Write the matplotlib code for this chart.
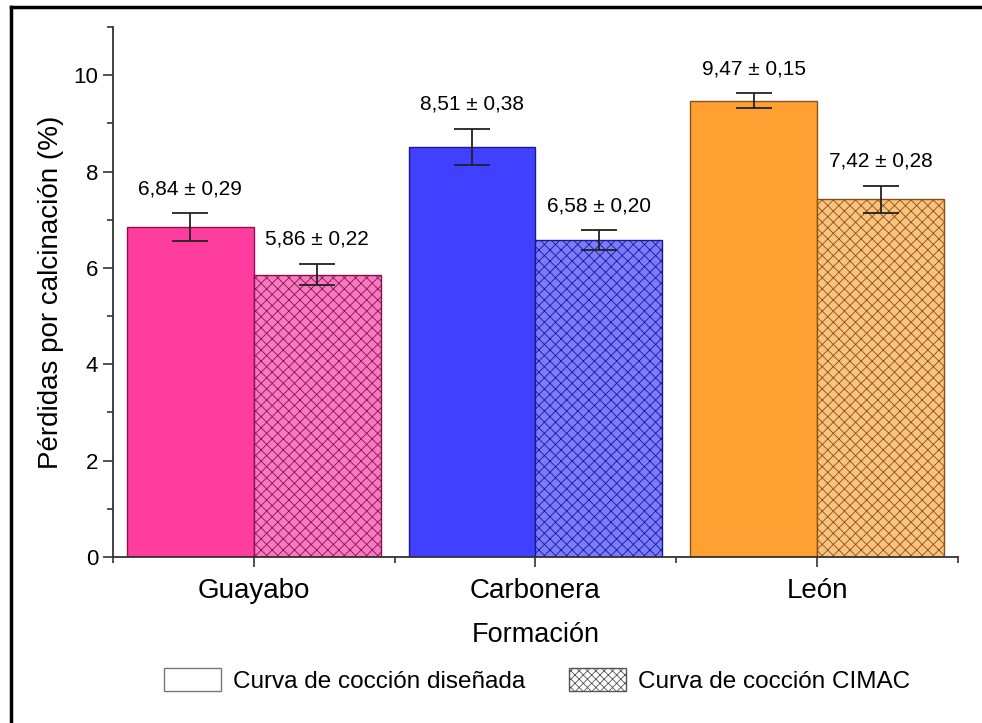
import numpy as np
import matplotlib.pyplot as plt
from matplotlib.patches import Patch
from matplotlib.lines import Line2D

plt.rcParams['font.family'] = ['Liberation Sans', 'DejaVu Sans']
plt.rcParams['hatch.linewidth'] = 0.6

formaciones = ['Guayabo', 'Carbonera', 'León']
disenada = [6.84, 8.51, 9.47]
disenada_err = [0.29, 0.38, 0.15]
cimac = [5.86, 6.58, 7.42]
cimac_err = [0.22, 0.20, 0.28]

# colores por formación: relleno sólido, relleno claro, borde/trama
color_solido = ['#ff3d9e', '#4040ff', '#ffa033']
color_claro = ['#f77ac1', '#7b7bff', '#f9c27e']
color_borde = ['#8a1050', '#1a1a8c', '#8a5014']

fig = plt.figure(figsize=(9.82, 7.23), dpi=100)
ax = fig.add_axes([0.115, 0.2296, 0.8606, 0.7331])

x = np.arange(1, len(formaciones) + 1)
w = 0.45

for i in range(len(formaciones)):
    ax.bar(x[i] - w / 2, disenada[i], w, color=color_solido[i],
           edgecolor=color_borde[i], linewidth=1)
    ax.bar(x[i] + w / 2, cimac[i], w, color=color_claro[i],
           edgecolor=color_borde[i], hatch='xxx', linewidth=1)

ax.errorbar(x - w / 2, disenada, yerr=disenada_err, fmt='none',
            ecolor='#222222', elinewidth=1.3, capsize=13, capthick=1.3)
ax.errorbar(x + w / 2, cimac, yerr=cimac_err, fmt='none',
            ecolor='#222222', elinewidth=1.3, capsize=13, capthick=1.3)

def etiqueta(v, e):
    return '{:.2f} ± {:.2f}'.format(v, e).replace('.', ',')

for i in range(len(formaciones)):
    ax.annotate(etiqueta(disenada[i], disenada_err[i]),
                (x[i] - w / 2, disenada[i] + disenada_err[i]),
                xytext=(0, 11), textcoords='offset points',
                ha='center', va='bottom', fontsize=15)
    ax.annotate(etiqueta(cimac[i], cimac_err[i]),
                (x[i] + w / 2, cimac[i] + cimac_err[i]),
                xytext=(0, 11), textcoords='offset points',
                ha='center', va='bottom', fontsize=15)

ax.set_xlim(0.5, 3.5)
ax.set_ylim(0, 11)
ax.set_xticks(x)
ax.set_xticklabels(formaciones, fontsize=20)
ax.set_xticks([0.5, 1.5, 2.5, 3.5], minor=True)
ax.set_yticks([0, 2, 4, 6, 8, 10])
ax.set_yticks([1, 3, 5, 7, 9, 11], minor=True)
ax.tick_params(axis='y', labelsize=16)
ax.tick_params(axis='x', which='major', pad=8)
ax.tick_params(which='major', length=7, width=1.2, color='#333333')
ax.tick_params(which='minor', length=4, width=1.2, color='#333333')
ax.spines['top'].set_visible(False)
ax.spines['right'].set_visible(False)
for s in ['left', 'bottom']:
    ax.spines[s].set_linewidth(1.3)
    ax.spines[s].set_color('#333333')

ax.set_xlabel('Formación', fontsize=19.5, labelpad=13)
ax.set_ylabel('Pérdidas por calcinación (%)', fontsize=20, labelpad=7)

handles = [Patch(facecolor='white', edgecolor='#777777', linewidth=1),
           Patch(facecolor='white', edgecolor='#555555', hatch='xxxx', linewidth=1)]
fig.legend(handles, ['Curva de cocción diseñada', 'Curva de cocción CIMAC'],
           loc='center', bbox_to_anchor=(0.547, 0.059), ncol=2, frameon=False,
           fontsize=17.5, handlelength=2.35, handleheight=1.1, columnspacing=1.8,
           handletextpad=0.5)

# marco exterior de la figura
fig.add_artist(Line2D([0.011, 1.0], [0.990, 0.990], color='black',
                      linewidth=2.5, transform=fig.transFigure))
fig.add_artist(Line2D([0.011, 0.011], [0.0, 0.990], color='black',
                      linewidth=2.5, transform=fig.transFigure))

fig.savefig('out.png', dpi=100)
